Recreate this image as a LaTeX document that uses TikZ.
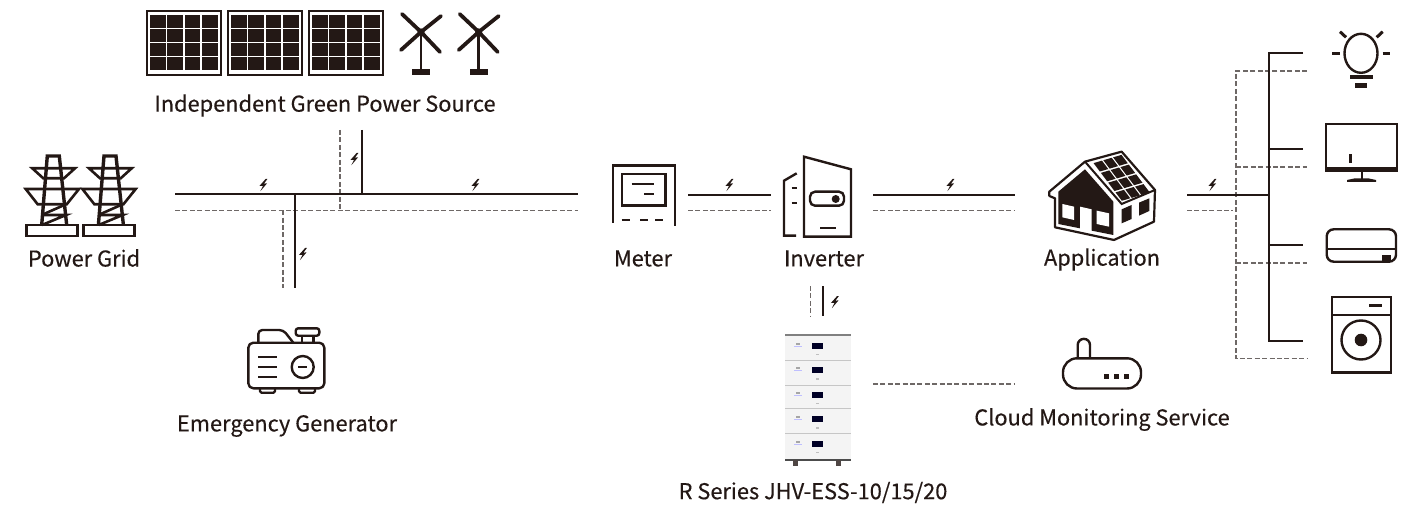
\documentclass[tikz,border=0pt]{standalone}
\usepackage{fontspec}
\setmainfont[FakeBold=0.35]{Noto Sans CJK SC}
\usetikzlibrary{calc}
\definecolor{ink}{HTML}{231815}
\definecolor{dashgray}{HTML}{6E6866}
\definecolor{battwhite}{HTML}{F4F4F4}
\newcommand{\hp}[2]{({187+88*(#1)/3+88*(#2)/4},{428-26*(#1)/3+117*(#2)/4})}
\tikzset{
  solidwire/.style={draw=ink,line width=2.2pt},
  dashwire/.style={draw=dashgray,line width=1.4pt,dash pattern=on 5pt off 2.4pt},
  icon/.style={draw=ink,line width=2.4pt,line join=miter},
  lab/.style={font=\fontsize{21.8}{26}\selectfont,text=ink,inner sep=0pt,anchor=center},
  bolt/.pic={\fill[ink] (2.6,-6)--(-3.6,1)--(0,0.8)--(-2.6,6.2)--(4,-1.6)--(1,-1.4)--(4.4,-6)--cycle;},
  panel/.pic={
    \draw[ink,line width=2.4pt] (0,0) rectangle (74,64);
    \foreach \x in {3.2,20.2,37.5,54.8}\foreach \y/\h in {4.2/13,18.5/12.3,32.5/12.7,46.5/13}
      \fill[ink] (\x,\y) rectangle ++(15.8,\h);
  },
  turbine/.pic={
    \draw[ink,line width=2.6pt] (0,0)--(0,38);
    \fill[ink] (-9,37) rectangle (9,43);
    \fill[ink] (0,0) circle (3.6);
    \draw[ink,line width=3.8pt,line cap=round] (0,0)--(-19,-18);
    \draw[ink,line width=3.8pt,line cap=round] (0,0)--(20,-16);
    \draw[ink,line width=3.8pt,line cap=round] (0,0)--(-20,18);
    \draw[ink,line width=3.8pt,line cap=round] (0,0)--(19,20);
  },
  tower/.pic={
    \draw[ink,line width=2.6pt] (26.7,225) rectangle (77.7,236);
    \draw[ink,line width=3.4pt,line join=miter] (41.7,225)--(47.3,156)--(59.3,156)--(66.7,225);
    \draw[ink,line width=2.6pt] (32.3,168.3)--(75,168.3)--(64,178.3)--(43.3,178.3)--cycle;
    \draw[ink,line width=2.6pt] (25.7,189)--(79,189)--(66.7,204.3)--(37.7,204.3)--cycle;
    \draw[ink,line width=2.6pt] (41.7,215)--(66,215)--(42,225);
    \draw[ink,line width=2.6pt] (41.7,215)--(64.3,205);
  },
  battunit/.pic={
    \fill[black!85!blue] (-5.5,-3) rectangle (5.5,3);
    \fill[gray!70] (-21.5,-3) rectangle (-18,-1);
    \fill[blue!25] (-24,0) rectangle (-16,1);
    \fill[gray!50] (-1.5,8) rectangle (1.5,9.5);
  }
}
\begin{document}
\begin{tikzpicture}[x=1pt,y=-1pt]
\useasboundingbox (0,0) rectangle (1411,505);

% ---- solar panels and turbines
\foreach \px in {147,228,309} \pic at (\px,11) {panel};
\pic at (421,32) {turbine};
\pic at (478.7,32) {turbine};
\node[lab] (lgreen) at (325,105.5) {Independent Green Power Source};

% ---- towers
\pic at (0,0) {tower};
\pic at (56.7,0) {tower};
\node[lab] (lgrid) at (84,258) {Power Grid};

% ---- generator
\begin{scope}[icon,line join=round]
\draw[rounded corners=5pt] (248.3,342.7) rectangle (324.3,388.3);
\draw[rounded corners=4pt] (258.3,342.7)--(258.3,330)--(283.3,330)--(293.3,342.7);
\draw[rounded corners=2.5pt] (295.7,328.3) rectangle (319.3,335.7);
\draw (301.7,335.7)--(301.7,342.7) (313.3,335.7)--(313.3,342.7);
\draw (258.3,356.7)--(276.7,356.7) (258.3,366.7)--(276.7,366.7) (258.3,376.7)--(276.7,376.7);
\draw (302.7,367) circle (11);
\draw (298.3,367)--(306.7,367);
\draw[rounded corners=1.5pt] (260,388.3)--(260,392.7)--(275,392.7)--(275,388.3);
\draw[rounded corners=1.5pt] (299,388.3)--(299,392.7)--(315,392.7)--(315,388.3);
\end{scope}
\node[lab] (lgen) at (287,426) {Emergency Generator};

% ---- meter
\begin{scope}[icon]
\draw (612.7,222.7)--(612.7,165.7)--(675,165.7)--(675,226);
\draw (621.7,174) rectangle (665.3,205.7);
\draw (631.7,184)--(654.3,184) (644.3,194)--(654.3,194);
\draw (621.7,220.3)--(630,220.3) (640,220.3)--(648,220.3) (655,220.3)--(663,220.3);
\end{scope}
\node[lab] (lmeter) at (643,258.5) {Meter};

% ---- inverter
\begin{scope}[icon]
\draw (804,236.7)--(804,156.7)--(851,169.3)--(851,236.7)--cycle;
\draw (796.7,173.3)--(784,180.7)--(784,235.7)--(796,235.7);
\draw (791.7,188.3)--(797.3,188.3) (791.7,203.3)--(797.3,203.3);
\draw[rounded corners=5pt] (810,191.7) rectangle (844,205.7);
\fill[ink] (835.7,199) circle (4);
\draw (820,228.3)--(835.7,228.3);
\end{scope}
\node[lab] (linv) at (824,258.5) {Inverter};

% ---- battery
\fill[battwhite] (785,335) rectangle (851,460);
\draw[gray,line width=1.6pt] (785,335)--(851,335);
\foreach \yy in {360,385,408,433} \draw[gray!45,line width=1pt] (785,\yy)--(851,\yy);
\foreach \yy in {345.5,370,394.5,419,443.5} \pic at (817.5,\yy) {battunit};
\draw[gray!60!black,line width=2.4pt] (785,460)--(851,460);
\fill[ink!80] (793,460) rectangle (798,466);
\fill[ink!80] (836,460) rectangle (841,466);
\node[lab] (lbatt) at (813,492.5) {R Series JHV-ESS-10/15/20};

% ---- house
\begin{scope}[shift={(1030,20)},x=0.3333pt,y=-0.3333pt]
\draw[ink,line width=2.2pt,fill=white,line join=round] (58,515)--(165,425)--(275,395)--(375,510)--(372,605)--(252,660)--(75,622)--(75,535)--(58,528)--cycle;
\draw[ink,line width=2pt] (165,425)--(275,552)--(375,510);
\foreach \i in {0,1,2}\foreach \j in {0,1,2,3}
  \fill[ink] \hp{\i+.07}{\j+.07}--\hp{\i+.93}{\j+.07}--\hp{\i+.93}{\j+.93}--\hp{\i+.07}{\j+.93}--cycle;
\fill[ink] (85,515)--(165,448)--(250,545)--(250,645)--(85,612)--cycle;
\fill[white] (97,552)--(132,560)--(132,600)--(97,592)--cycle;
\fill[white] (150,560)--(185,568)--(185,635)--(150,628)--cycle;
\fill[white] (200,572)--(237,580)--(237,620)--(200,612)--cycle;
\fill[ink] (275,568)--(305,555)--(305,597)--(275,610)--cycle;
\fill[ink] (327,548)--(358,535)--(358,573)--(327,587)--cycle;
\end{scope}
\node[lab] (lapp) at (1102,259.5) {Application};

% ---- router
\begin{scope}[icon]
\draw (1077.7,358.3)--(1077.7,345) arc[start angle=180,end angle=360,radius=6.15]--(1090,358.3);
\draw[rounded corners=14pt] (1063,358.3) rectangle (1141,388.5);
\end{scope}
\foreach \dx in {1104,1114,1124} \fill[ink] (\dx,374.3) rectangle ++(5.3,5);
\node[lab] (lcloud) at (1102,419.5) {Cloud Monitoring Service};

% ---- bulb
\begin{scope}[icon]
\draw (1361,53.3) ellipse [x radius=16.5,y radius=19.5];
\draw[line width=3pt] (1332.3,53.3)--(1340,53.3) (1382.7,53.3)--(1390,53.3);
\draw[line width=3pt] (1340,31.7)--(1346,37.3) (1382.7,31.7)--(1376.7,37.3);
\end{scope}
\fill[ink] (1350,75) rectangle (1372.7,79.3);
\fill[ink] (1355,82.7) rectangle (1366.7,87.7);

% ---- monitor
\draw[icon] (1325.7,124) rectangle (1397,170.7);
\fill[ink] (1325,166.7) rectangle (1397.7,171.7);
\draw[icon,line width=3pt] (1350.3,154.3)--(1350.3,162.7);
\draw[icon] (1361.7,171.7)--(1361.7,180);
\fill[ink] (1347,180) -- (1354,178.5)--(1369,178.5)--(1376,180)--(1376,182)--(1347,182)--cycle;

% ---- air conditioner
\draw[icon,rounded corners=7pt] (1326.7,229.3) rectangle (1396,261.7);
\draw[icon] (1327,249)--(1396,249);
\fill[ink] (1382.3,255.3) rectangle (1391,260.7);

% ---- washer
\draw[icon] (1331.7,296.7) rectangle (1391,372.3);
\draw[icon] (1331.7,315)--(1391,315);
\draw[icon] (1369.3,305.3)--(1381.7,305.3);
\draw[icon] (1361,340) circle (19.5);
\fill[ink] (1361,340) circle (6.3);

% ---- connector end points
\coordinate (gs) at (175,194.3); \coordinate (ge) at (578,194.3);
\coordinate (ds) at (175,210.3); \coordinate (de) at (578,210.3);
\coordinate (gt) at (362,130);   \coordinate (gtb) at (362,194.3);
\coordinate (dt) at (340,130);   \coordinate (dtb) at (340,210.3);
\coordinate (gb) at (295,288);   \coordinate (gbt) at (295,194.3);
\coordinate (db) at (283,288);   \coordinate (dbt) at (283,210.3);
\coordinate (m1) at (688,194.7); \coordinate (m2) at (771,194.7);
\coordinate (m3) at (688,210.3); \coordinate (m4) at (771,210.3);
\coordinate (i1) at (873,194.7); \coordinate (i2) at (1015,194.7);
\coordinate (i3) at (873,210.3); \coordinate (i4) at (1015,210.3);
\coordinate (b1) at (823.3,286); \coordinate (b2) at (823.3,316);
\coordinate (b3) at (810.5,286); \coordinate (b4) at (810.5,316);
\coordinate (c1) at (873,384);   \coordinate (c2) at (1015,384);
\coordinate (a1) at (1187,194.7);\coordinate (a2) at (1269,194.7);
\coordinate (a3) at (1187,210.3);\coordinate (a4) at (1233,210.3);
\coordinate (s1) at (1269,53.3); \coordinate (s1e) at (1303,53.3);
\coordinate (s2) at (1269,149.3);\coordinate (s2e) at (1303,149.3);
\coordinate (s3) at (1269,245.3);\coordinate (s3e) at (1303,245.3);
\coordinate (s4) at (1269,341.3);\coordinate (s4e) at (1303,341.3);
\coordinate (t1) at (1236,71);   \coordinate (t1e) at (1307,71);
\coordinate (t2) at (1236,167);  \coordinate (t2e) at (1307,167);
\coordinate (t3) at (1236,263);  \coordinate (t3e) at (1307,263);
\coordinate (t4) at (1236,358.7);\coordinate (t4e) at (1307,358.7);

% ---- dashed wires
\draw[dashwire] (ds)--(de);
\draw[dashwire] (dt)--(dtb);
\draw[dashwire] (dbt)--(db);
\draw[dashwire] (m3)--(m4);
\draw[dashwire] (i3)--(i4);
\draw[dashwire] (b3)--(b4);
\draw[dashwire] (c1)--(c2);
\draw[dashwire] (a3)--(a4);
\draw[dashwire] (t1e)--(t1)--(t4)--(t4e);
\draw[dashwire] (t2)--(t2e);
\draw[dashwire] (t3)--(t3e);

% ---- solid wires
\draw[solidwire] (gs)--(ge);
\draw[solidwire] (gt)--(gtb);
\draw[solidwire] (gbt)--(gb);
\draw[solidwire] (m1)--(m2);
\draw[solidwire] (i1)--(i2);
\draw[solidwire] (b1)--(b2);
\draw[solidwire] (a1)--(a2);
\draw[solidwire] (s1e)--(s1)--(s4)--(s4e);
\draw[solidwire] (s2)--(s2e);
\draw[solidwire] (s3)--(s3e);

% ---- voltage marks
\foreach \bx/\by in {263/185,475/185,354/159,302.5/254,729/185,834.5/302,950/185,1212/185}
  \pic at (\bx,\by) {bolt};
\end{tikzpicture}
\end{document}
